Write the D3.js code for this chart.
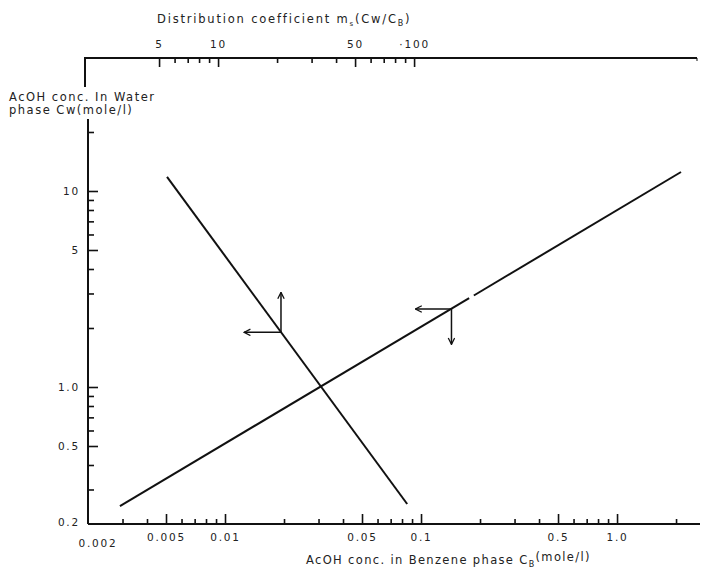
<!DOCTYPE html>
<html>
  <head>
    <meta charset="utf-8">
    <script src="https://d3js.org/d3.v7.min.js"></script>
    <title>AcOH distribution</title>
    <style>
      body { margin: 0; background: #fff; }
      text { font-family: "DejaVu Sans", sans-serif; fill: #222; }
      .tick text, .lbl { font-size: 10.5px; letter-spacing: 1.8px; }
      .title { font-size: 11.5px; letter-spacing: 1.5px; }
    </style>
  </head>
  <body>
    <svg id="chart" width="701" height="572"></svg>
    <script>
      // axis ticks
      var xMajor = [0.005, 0.01, 0.05, 0.1, 0.5, 1.0];
      var xMinor = [0.003, 0.004, 0.006, 0.007, 0.008, 0.009, 0.02, 0.03, 0.04,
                    0.06, 0.07, 0.08, 0.09, 0.2, 0.3, 0.4, 0.6, 0.7, 0.8, 0.9, 2];
      var xLabels = ["0.005", "0.01", "0.05", "0.1", "0.5", "1.0"];
      var yMajor = [0.5, 1, 5, 10];
      var yMinor = [0.3, 0.4, 0.6, 0.7, 0.8, 0.9, 2, 3, 4, 6, 7, 8, 9, 20];
      var yLabels = ["0.5", "1.0", "5", "10"];
      var mMajor = [5, 10, 50, 100];
      var mMinor = [6, 7, 8, 9, 20, 30, 40, 60, 70, 80, 90];
      var mLabels = ["5", "10", "50", "\u00b7100"];

      // the two lines (C_B, Cw)
      var steepLine = [[0.00506, 11.8], [0.085, 0.253]];
      var shallowLineA = [[0.00291, 0.247], [0.176, 2.84]];
      var shallowLineB = [[0.186, 2.93], [2.12, 12.5]];
      // arrows: start point, end point
      var arrows = [
        [[0.0193, 1.9], [0.0193, 3.04]],
        [[0.0193, 1.9], [0.0125, 1.9]],
        [[0.143, 2.5], [0.0936, 2.5]],
        [[0.143, 2.5], [0.143, 1.65]]
      ];

      var svg = d3.select("#chart"),
          padL = 88, padR = 700, padT = 58, padB = 524;

      var x = d3.scaleLog().domain([0.002, 2.65]).range([padL, padR]),
          y = d3.scaleLog().domain([0.2, 47.7]).range([padB, padT]),
          m = d3.scaleLog().domain([2.17, 2875]).range([padL, padR]);

      svg.append("rect").attr("width", 701).attr("height", 572).attr("fill", "#fff");

      // bottom axis
      var gx = svg.append("g").attr("transform", "translate(0," + padB + ")");
      gx.append("g").call(d3.axisBottom(x).tickValues(xMinor).tickSizeInner(-5).tickSizeOuter(0).tickFormat(""));
      gx.append("g").call(d3.axisBottom(x).tickValues(xMajor).tickSizeInner(-10).tickSizeOuter(0)
          .tickPadding(10).tickFormat(function (d, i) { return xLabels[i]; }));
      gx.append("text").attr("class", "lbl").attr("x", x(0.002) + 10).attr("y", 23)
          .attr("text-anchor", "middle").text("0.002");

      // left axis
      var gy = svg.append("g").attr("transform", "translate(" + padL + ",0)");
      gy.append("g").call(d3.axisLeft(y).tickValues(yMinor).tickSizeInner(-6).tickSizeOuter(0).tickFormat(""));
      gy.append("g").call(d3.axisLeft(y).tickValues(yMajor).tickSizeInner(-10).tickSizeOuter(0)
          .tickPadding(8).tickFormat(function (d, i) { return yLabels[i]; }));
      gy.append("text").attr("class", "lbl").attr("x", -8).attr("y", y(0.2)).attr("dy", "0.2em")
          .attr("text-anchor", "end").text("0.2");

      // top axis (distribution coefficient)
      var gm = svg.append("g").attr("transform", "translate(0," + padT + ")");
      gm.append("g").call(d3.axisTop(m).tickValues(mMinor).tickSizeInner(-5).tickSizeOuter(0).tickFormat(""));
      gm.append("g").call(d3.axisTop(m).tickValues(mMajor).tickSizeInner(-9).tickSizeOuter(0)
          .tickPadding(10).tickFormat(function (d, i) { return mLabels[i]; }));

      svg.selectAll(".domain").remove();
      svg.selectAll(".tick line").attr("stroke", "#111").attr("stroke-width", 1.6);

      // frame lines
      svg.append("line").attr("x1", padL).attr("x2", padR).attr("y1", padB).attr("y2", padB)
          .attr("stroke", "#111").attr("stroke-width", 2);
      svg.append("line").attr("x1", padL - 4).attr("x2", padR - 3).attr("y1", padT).attr("y2", padT)
          .attr("stroke", "#111").attr("stroke-width", 2);
      svg.append("line").attr("x1", padL - 3).attr("x2", padL - 3).attr("y1", padT).attr("y2", 87)
          .attr("stroke", "#111").attr("stroke-width", 2);
      svg.append("line").attr("x1", padL).attr("x2", padL).attr("y1", 119).attr("y2", padB)
          .attr("stroke", "#111").attr("stroke-width", 2);
      svg.append("line").attr("x1", padR - 3).attr("x2", padR - 3).attr("y1", padT).attr("y2", padT + 3)
          .attr("stroke", "#111").attr("stroke-width", 1);

      // data lines
      var line = d3.line().x(function (d) { return x(d[0]); }).y(function (d) { return y(d[1]); });
      [steepLine, shallowLineA, shallowLineB].forEach(function (pts) {
        svg.append("path").datum(pts).attr("d", line)
            .attr("fill", "none").attr("stroke", "#111").attr("stroke-width", 2);
      });

      // arrows
      svg.append("defs").append("marker")
          .attr("id", "head").attr("markerUnits", "userSpaceOnUse")
          .attr("viewBox", "0 0 10 10").attr("refX", 9).attr("refY", 5)
          .attr("markerWidth", 8).attr("markerHeight", 8).attr("orient", "auto")
          .append("path").attr("d", "M1,1 L9,5 L1,9").attr("fill", "none")
          .attr("stroke", "#111").attr("stroke-width", 1.6);
      svg.selectAll(".arrow").data(arrows).enter().append("path")
          .attr("class", "arrow").attr("d", line)
          .attr("fill", "none").attr("stroke", "#111").attr("stroke-width", 1.5)
          .attr("marker-end", "url(#head)");

      // titles
      var t1 = svg.append("text").attr("class", "title").attr("x", 157).attr("y", 23)
          .style("letter-spacing", "1.8px");
      t1.append("tspan").text("Distribution coefficient m");
      t1.append("tspan").attr("dy", 3).style("font-size", "7px").text("s");
      t1.append("tspan").attr("dy", -3).text("(Cw/C");
      t1.append("tspan").attr("dy", 3).style("font-size", "8px").text("B");
      t1.append("tspan").attr("dy", -3).text(")");

      svg.append("text").attr("class", "title").attr("x", 9).attr("y", 101).text("AcOH conc. In Water");
      svg.append("text").attr("class", "title").attr("x", 9).attr("y", 114).text("phase Cw(mole/l)");

      var t2 = svg.append("text").attr("class", "title").attr("x", 306).attr("y", 564)
          .style("letter-spacing", "1.35px");
      t2.append("tspan").text("AcOH conc. in Benzene phase C");
      t2.append("tspan").attr("dy", 3).style("font-size", "8px").text("B");
      t2.append("tspan").attr("dy", -6).text("(mole/l)");
    </script>
  </body>
</html>
